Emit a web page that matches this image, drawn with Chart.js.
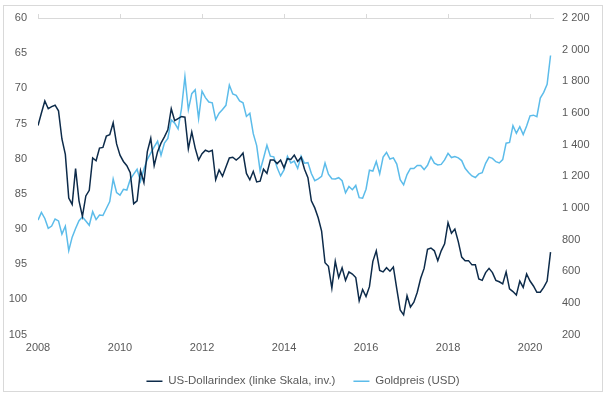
<!DOCTYPE html>
<html>
<head>
<meta charset="utf-8">
<script src="https://cdn.jsdelivr.net/npm/chart.js@4"></script>
<style>
  body { margin: 0; background: #fff; overflow: hidden; }
  #frame {
    position: absolute; left: 3px; top: 5px;
    width: 600px; height: 387px;
    box-sizing: border-box; border: 1px solid #d9d9d9;
  }
  #chart { position: absolute; left: 4px; top: 6px; display: block; }
</style>
</head>
<body>
<div id="frame"></div>
<canvas id="chart" width="598" height="391"></canvas>
<script>
// Monatswerte Jan 2008 bis Jul 2020
const startYear = 2008;
const dollarIndex = [
  75.3, 73.5, 71.8, 72.9, 72.6, 72.4, 73.2, 77.2, 79.4, 85.6, 86.5, 81.4,
  86.0, 88.2, 85.3, 84.5, 79.9, 80.3, 78.5, 78.4, 76.8, 76.6, 74.9, 77.9,
  79.5, 80.4, 81.0, 82.0, 86.4, 86.0, 81.7, 83.4, 79.0, 77.1, 81.0, 79.0,
  77.8, 76.9, 75.9, 72.9, 74.6, 74.3, 74.0, 74.1, 78.6, 76.2, 78.5, 80.2,
  79.3, 78.8, 79.0, 78.8, 83.0, 81.6, 82.5, 81.2, 79.9, 79.8, 80.2, 79.8,
  79.2, 82.1, 83.0, 81.8, 83.3, 83.2, 81.5, 82.1, 80.2, 80.2, 80.7, 80.2,
  81.3, 80.0, 80.1, 79.5, 80.4, 79.8, 81.5, 82.7, 86.0, 87.0, 88.4, 90.3,
  94.8, 95.3, 98.4, 94.6, 96.9, 95.5, 97.3, 96.1, 96.4, 96.9, 100.2, 98.6,
  99.6, 98.2, 94.6, 93.1, 95.9, 96.1, 95.5, 96.0, 95.4, 98.5, 101.5, 102.2,
  99.5, 101.1, 100.4, 99.0, 97.0, 95.6, 92.9, 92.7, 93.1, 94.5, 93.1, 92.1,
  89.1, 90.6, 90.0, 91.8, 94.0, 94.5, 94.5, 95.1, 95.1, 97.1, 97.3, 96.2,
  95.6, 96.2, 97.3, 97.5, 97.8, 96.1, 98.5, 98.9, 99.4, 97.4, 98.3, 96.4,
  97.4, 98.1, 99.0, 99.0, 98.3, 97.4, 93.3
];
const goldPrice = [
  923, 971, 933, 871, 885, 930, 918, 834, 884, 730, 815, 870,
  919, 943, 917, 890, 976, 926, 955, 952, 996, 1040, 1182, 1097,
  1081, 1117, 1113, 1180, 1213, 1244, 1169, 1246, 1307, 1346, 1386, 1421,
  1333, 1410, 1439, 1556, 1536, 1500, 1628, 1829, 1620, 1722, 1746, 1564,
  1738, 1697, 1669, 1664, 1558, 1598, 1622, 1648, 1776, 1720, 1711, 1676,
  1664, 1578, 1598, 1469, 1394, 1235, 1314, 1396, 1327, 1323, 1253, 1202,
  1240, 1326, 1284, 1296, 1250, 1327, 1282, 1286, 1217, 1172, 1183, 1199,
  1284, 1213, 1184, 1183, 1191, 1172, 1095, 1135, 1115, 1142, 1065, 1061,
  1118, 1238, 1233, 1293, 1215, 1321, 1350, 1309, 1316, 1277, 1178, 1146,
  1211, 1249, 1249, 1268, 1268, 1242, 1269, 1322, 1283, 1271, 1275, 1303,
  1345, 1318, 1325, 1316, 1299, 1250, 1224, 1202, 1192, 1215, 1222, 1282,
  1321, 1313, 1292, 1284, 1305, 1409, 1414, 1520, 1472, 1513, 1464, 1517,
  1582, 1586, 1577, 1694, 1730, 1781, 1963
];
const seriesNames = ['US-Dollarindex (linke Skala, inv.)', 'Goldpreis (USD)'];
const yearTicks = [2008, 2010, 2012, 2014, 2016, 2018, 2020];

// x-Position = Jahr + Monat/12
const toPoints = arr => arr.map((v, i) => ({ x: startYear + i / 12, y: v }));

const txt = '#595959';
const font = { family: 'Liberation Sans, Arial, sans-serif', size: 11 };

// 2 200 statt 2,200
function spaced(v) {
  return String(v).replace(/\B(?=(\d{3})+(?!\d))/g, ' ');
}

// feste Breite, ohne Extra-Abstand oben/unten fuer die Beschriftung
function fixWidth(w) {
  return s => { s.width = w; s.paddingTop = 0; s.paddingBottom = 0; };
}

new Chart(document.getElementById('chart'), {
  type: 'line',
  data: {
    datasets: [
      {
        label: seriesNames[0],
        data: toPoints(dollarIndex),
        yAxisID: 'y',
        borderColor: '#0d2b4a',
        backgroundColor: '#0d2b4a',
        borderWidth: 1.5,
        pointRadius: 0,
        tension: 0
      },
      {
        label: seriesNames[1],
        data: toPoints(goldPrice),
        yAxisID: 'y2',
        borderColor: '#5cbcea',
        backgroundColor: '#5cbcea',
        borderWidth: 1.5,
        pointRadius: 0,
        tension: 0
      }
    ]
  },
  options: {
    responsive: false,
    animation: false,
    layout: { padding: { top: 8, left: 0, right: 0, bottom: 0 } },
    plugins: {
      tooltip: { enabled: false },
      legend: {
        position: 'bottom',
        labels: {
          color: txt,
          font: { family: font.family, size: 11.5 },
          usePointStyle: true,
          pointStyle: 'line',
          pointStyleWidth: 16,
          padding: 18
        }
      }
    },
    scales: {
      x: {
        type: 'linear',
        position: 'bottom',
        min: 2008,
        max: 2020.56,
        afterBuildTicks: s => { s.ticks = yearTicks.map(v => ({ value: v })); },
        ticks: { color: txt, font: font, padding: 7, maxRotation: 0, callback: v => String(v) },
        grid: { display: false, drawTicks: false },
        border: { display: false },
        afterFit: s => { s.height = 23; }
      },
      xTop: {
        type: 'linear',
        position: 'top',
        min: 2008,
        max: 2020.56,
        afterBuildTicks: s => { s.ticks = yearTicks.map(v => ({ value: v })); },
        ticks: { display: false },
        grid: { drawOnChartArea: false, color: '#d9d9d9', tickLength: 4 },
        border: { display: true, color: '#d9d9d9' },
        afterFit: s => { s.height = 4; }
      },
      y: {
        position: 'left',
        reverse: true,
        min: 60,
        max: 105,
        ticks: { stepSize: 5, color: txt, font: font, padding: 11 },
        grid: { display: false, drawTicks: false },
        border: { display: false },
        afterFit: fixWidth(34)
      },
      y2: {
        position: 'right',
        min: 200,
        max: 2200,
        ticks: { stepSize: 200, color: txt, font: font, padding: 9, callback: v => spaced(v) },
        grid: { display: false, drawTicks: false },
        border: { display: false },
        afterFit: fixWidth(49)
      }
    }
  }
});
</script>
</body>
</html>
